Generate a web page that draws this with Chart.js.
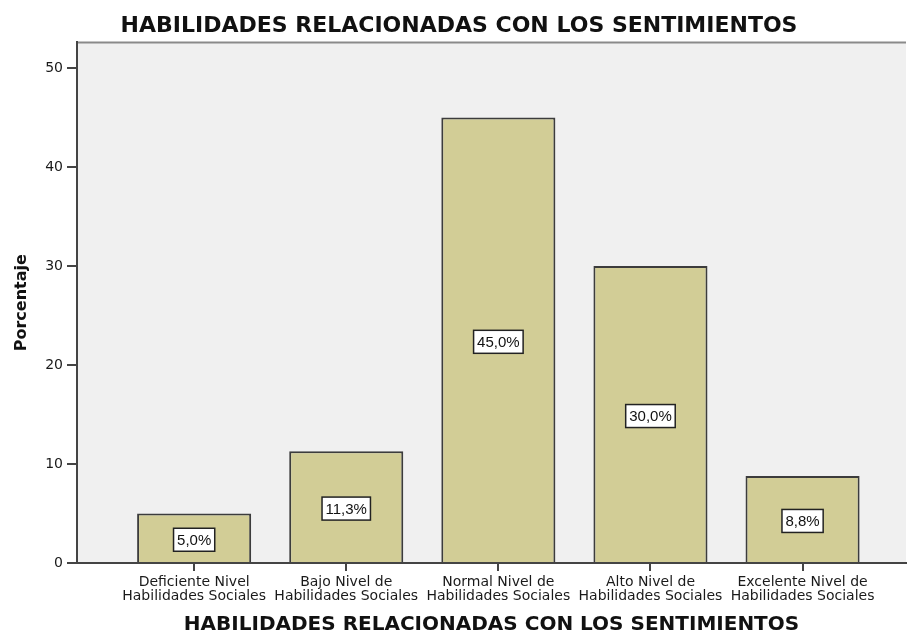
<!DOCTYPE html>
<html>
<head>
<meta charset="utf-8">
<script src="https://cdn.jsdelivr.net/npm/chart.js@4.4.1/dist/chart.umd.min.js"></script>
<style>
  html, body { margin: 0; padding: 0; background: #ffffff; }
  #wrap { width: 908px; height: 637px; }
</style>
</head>
<body>
<div id="wrap"><canvas id="chart"></canvas></div>
<script>
const categories = [
  ['Deficiente Nivel', 'Habilidades Sociales'],
  ['Bajo Nivel de', 'Habilidades Sociales'],
  ['Normal Nivel de', 'Habilidades Sociales'],
  ['Alto Nivel de', 'Habilidades Sociales'],
  ['Excelente Nivel de', 'Habilidades Sociales']
];
const percentages = [5.0, 11.3, 45.0, 30.0, 8.8];
const yTicks = [0, 10, 20, 30, 40, 50];
const chartTitle = 'HABILIDADES RELACIONADAS CON LOS SENTIMIENTOS';

// grey plot background + top border line
const plotBackground = {
  id: 'plotBackground',
  beforeDraw(chart) {
    const { ctx, chartArea: a } = chart;
    ctx.save();
    ctx.fillStyle = '#f0f0f0';
    ctx.fillRect(a.left, a.top, a.right - a.left, a.bottom - a.top);
    ctx.strokeStyle = '#8a8a8a';
    ctx.lineWidth = 2;
    ctx.beginPath();
    ctx.moveTo(a.left, a.top);
    ctx.lineTo(a.right, a.top);
    ctx.stroke();
    ctx.restore();
  }
};

// boxed percentage labels in the middle of each bar
const boxLabels = {
  id: 'boxLabels',
  afterDatasetsDraw(chart) {
    const { ctx } = chart;
    const meta = chart.getDatasetMeta(0);
    ctx.save();
    ctx.font = '15px "Liberation Sans", Arial, sans-serif';
    ctx.textAlign = 'center';
    ctx.textBaseline = 'middle';
    meta.data.forEach((bar, i) => {
      const text = percentages[i].toFixed(1).replace('.', ',') + '%';
      const w = ctx.measureText(text).width + 7;
      const h = 23;
      const cx = bar.x;
      const cy = (bar.y + bar.base) / 2 + 2;
      ctx.fillStyle = '#ffffff';
      ctx.fillRect(cx - w / 2, cy - h / 2, w, h);
      ctx.strokeStyle = '#222222';
      ctx.lineWidth = 1.5;
      ctx.strokeRect(cx - w / 2, cy - h / 2, w, h);
      ctx.fillStyle = '#111111';
      ctx.fillText(text, cx, cy + 1);
    });
    ctx.restore();
  }
};

new Chart(document.getElementById('chart'), {
  type: 'bar',
  data: {
    datasets: [{
      data: percentages.map((v, i) => ({ x: i, y: v })),
      backgroundColor: '#d2cd96',
      borderColor: '#3c3c3c',
      borderWidth: 2,
      barPercentage: 0.75,
      categoryPercentage: 1
    }]
  },
  plugins: [plotBackground, boxLabels],
  options: {
    responsive: true,
    maintainAspectRatio: false,
    animation: false,
    layout: { padding: { left: 12, right: 2, top: 0, bottom: 0 } },
    plugins: {
      legend: { display: false },
      tooltip: { enabled: false },
      title: {
        display: true,
        text: chartTitle,
        color: '#111111',
        font: { family: '"DejaVu Sans", sans-serif', size: 22, weight: 'bold', lineHeight: 1.2 },
        padding: { top: 13, bottom: 3 }
      }
    },
    scales: {
      x: {
        type: 'linear',
        min: -0.77,
        max: 4.68,
        offset: false,
        afterBuildTicks: (scale) => {
          scale.ticks = categories.map((c, i) => ({ value: i }));
        },
        ticks: {
          autoSkip: false,
          maxRotation: 0,
          padding: 4,
          color: '#1a1a1a',
          font: { family: '"DejaVu Sans", sans-serif', size: 14, lineHeight: 1 },
          callback: (value) => categories[value]
        },
        grid: { offset: false, drawOnChartArea: false, drawTicks: true, tickLength: 8, color: '#444444', lineWidth: 2 },
        border: { display: true, color: '#444444', width: 2 },
        title: {
          display: true,
          text: chartTitle,
          color: '#111111',
          font: { family: '"DejaVu Sans", sans-serif', size: 20, weight: 'bold', lineHeight: 1.2 },
          padding: { top: 6, bottom: 0 }
        }
      },
      y: {
        min: 0,
        max: 52.6,
        afterBuildTicks: (scale) => {
          scale.ticks = yTicks.map(v => ({ value: v }));
        },
        ticks: {
          padding: 4,
          color: '#1a1a1a',
          font: { family: '"DejaVu Sans", sans-serif', size: 14 }
        },
        grid: { drawOnChartArea: false, drawTicks: true, tickLength: 10, color: '#444444', lineWidth: 2 },
        border: { display: true, color: '#444444', width: 2 },
        title: {
          display: true,
          text: 'Porcentaje',
          color: '#111111',
          font: { family: '"DejaVu Sans", sans-serif', size: 16, weight: 'bold', lineHeight: 1.2 },
          padding: { top: 0, bottom: 10 }
        }
      }
    }
  }
});
</script>
</body>
</html>
